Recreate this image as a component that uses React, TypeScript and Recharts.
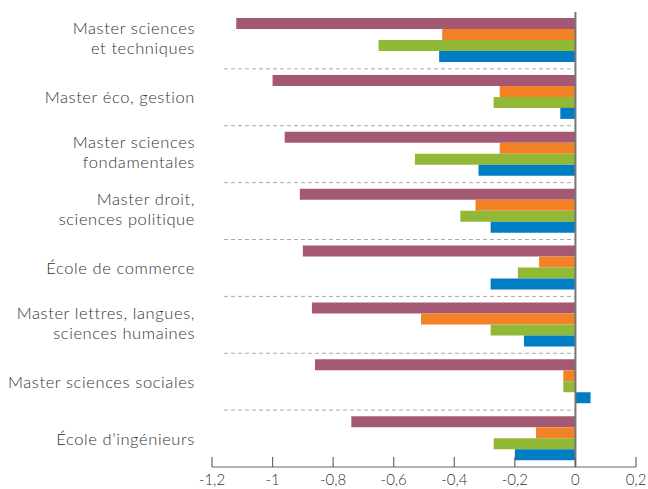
import { BarChart, Bar, XAxis, YAxis, CartesianGrid, ReferenceLine } from 'recharts';

// Categories (top to bottom), label lines split on \n
const categories = [
  'Master sciences\net techniques',
  'Master éco, gestion',
  'Master sciences\nfondamentales',
  'Master droit,\nsciences politique',
  'École de commerce',
  'Master lettres, langues,\nsciences humaines',
  'Master sciences sociales',
  'École d’ingénieurs',
];

const serie1 = [-1.12, -1.0, -0.96, -0.91, -0.9, -0.87, -0.86, -0.74];
const serie2 = [-0.44, -0.25, -0.25, -0.33, -0.12, -0.51, -0.04, -0.13];
const serie3 = [-0.65, -0.27, -0.53, -0.38, -0.19, -0.28, -0.04, -0.27];
const serie4 = [-0.45, -0.05, -0.32, -0.28, -0.28, -0.17, 0.05, -0.2];

const xTicks = [-1.2, -1, -0.8, -0.6, -0.4, -0.2, 0, 0.2];

const data = categories.map((cat, i) => ({
  cat,
  s1: serie1[i],
  s2: serie2[i],
  s3: serie3[i],
  s4: serie4[i],
}));

const FONT = 'Lato, "Open Sans", sans-serif';

function CategoryTick({ x, y, payload }: any) {
  const lines = String(payload.value).split('\n');
  const offsets = lines.length > 1 ? [-6, 14] : [6];
  return (
    <text
      x={x}
      textAnchor="end"
      fill="#333"
      fontSize={16.5}
      fontWeight={300}
      letterSpacing={0.6}
      fontFamily={FONT}
    >
      {lines.map((l, i) => (
        <tspan key={i} x={x} y={y + offsets[i]}>
          {l}
        </tspan>
      ))}
    </text>
  );
}

function ValueTick({ x, y, payload }: any) {
  return (
    <g>
      <line x1={x} x2={x} y1={y - 10} y2={y} stroke="#666" strokeWidth={1.2} />
      <text x={x} y={y + 18} textAnchor="middle" fill="#333" fontSize={15} fontWeight={300} fontFamily={FONT}>
        {String(payload.value).replace('.', ',')}
      </text>
    </g>
  );
}

// dashed separators between categories
const separators = ({ offset }: any) => {
  const top = offset?.top ?? 12;
  const h = offset?.height ?? 455;
  const step = h / categories.length;
  return categories.slice(1).map((_, i) => top + step * (i + 1));
};

export default function App() {
  return (
    <div>
      <style>{'body{margin:0}'}</style>
      <BarChart
        width={648}
        height={489}
        data={data}
        layout="vertical"
        margin={{ top: 12, right: 12, bottom: 0, left: 0 }}
        barCategoryGap={6}
        barGap={0}
      >
        <CartesianGrid
          vertical={false}
          x={224}
          width={352}
          stroke="#aaa"
          strokeDasharray="4 3"
          horizontalCoordinatesGenerator={separators}
        />
        <XAxis
          type="number"
          domain={[-1.2, 0.2]}
          ticks={xTicks}
          interval={0}
          height={22}
          tickSize={0}
          tickMargin={0}
          tickLine={false}
          stroke="#666"
          tick={<ValueTick />}
        />
        <YAxis
          type="category"
          dataKey="cat"
          width={212}
          axisLine={false}
          tickLine={false}
          tickSize={0}
          tickMargin={17}
          interval={0}
          tick={<CategoryTick />}
        />
        <Bar dataKey="s1" fill="#A45873" isAnimationActive={false} />
        <Bar dataKey="s2" fill="#F38226" isAnimationActive={false} />
        <Bar dataKey="s3" fill="#92B935" isAnimationActive={false} />
        <Bar dataKey="s4" fill="#007DC3" isAnimationActive={false} />
        <ReferenceLine x={0} stroke="#777" strokeWidth={2} />
      </BarChart>
    </div>
  );
}
